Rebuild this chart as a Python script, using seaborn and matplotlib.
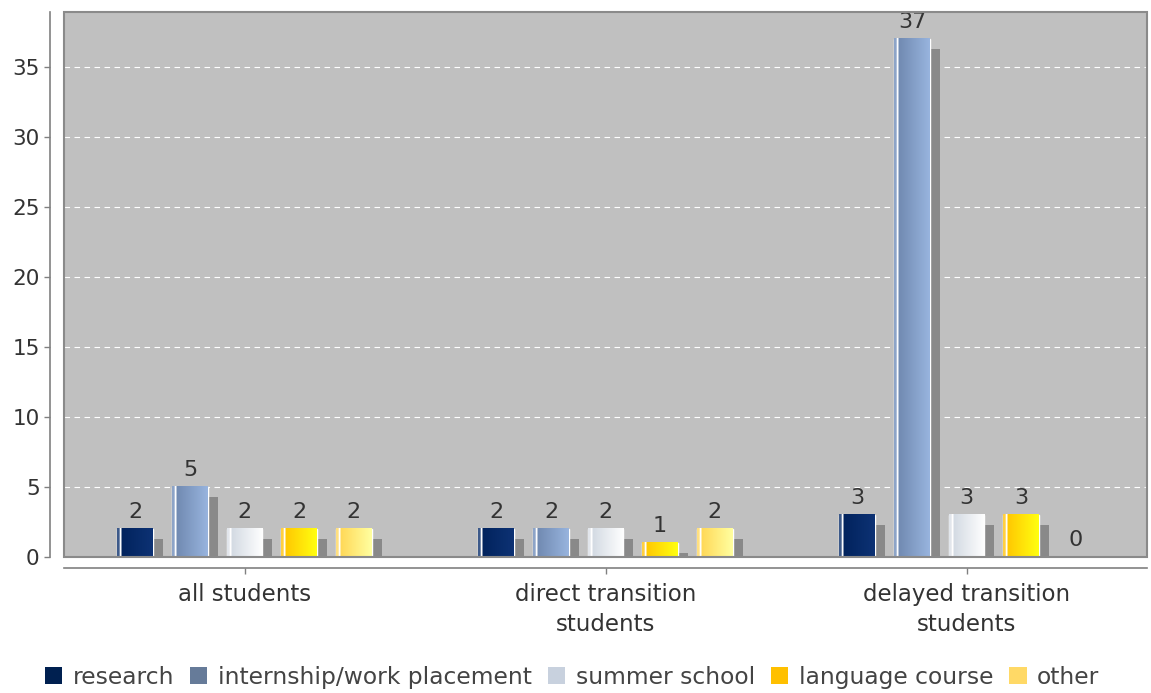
import matplotlib
matplotlib.use('Agg')
import numpy as np
import pandas as pd
import matplotlib.pyplot as plt
import seaborn as sns
from matplotlib.patches import Rectangle, Patch
from matplotlib.colors import to_rgb
from matplotlib.transforms import offset_copy

# Data
groups = ['all students', 'direct transition\nstudents', 'delayed transition\nstudents']
series = ['research', 'internship/work placement', 'summer school', 'language course', 'other']
research = [2, 2, 3]
internship = [5, 2, 37]
summer_school = [2, 2, 3]
language_course = [2, 1, 3]
other = [2, 2, 0]

# Colours: legend swatch, gradient left -> right, thin left strip
legend_colors = ['#002050', '#667b99', '#c8d1de', '#ffc000', '#ffd966']
grad_left = ['#00215a', '#6b84ab', '#cdd5df', '#ffc000', '#ffd34d']
grad_right = ['#0d3274', '#98b4de', '#ffffff', '#ffff10', '#ffffa0']
strip_colors = ['#3d5a8a', '#8da4c8', '#e2e6ec', '#ffd040', '#ffe080']

df = pd.DataFrame({
    'group': groups * 5,
    'series': np.repeat(series, 3),
    'count': research + internship + summer_school + language_course + other,
})

sns.set_style('white')
plt.rcParams['font.family'] = ['DejaVu Sans']

fig = plt.figure(figsize=(11.51, 6.93), dpi=100)
ax = fig.add_axes([64 / 1151, 1 - 557 / 693, 1083 / 1151, 545 / 693])
ax.set_facecolor('#c0c0c0')

sns.barplot(data=df, x='group', y='count', hue='series', order=groups, hue_order=series,
            palette=legend_colors, saturation=1, width=0.755, gap=0.34, errorbar=None,
            legend=False, ax=ax)

# shadow drawn from each bar's own geometry, shifted down-right
shadow_tr = offset_copy(ax.transData, fig=fig, x=7.2, y=-7.2, units='points')


def make_gradient(i, n=120):
    left = np.array(to_rgb(grad_left[i]))
    right = np.array(to_rgb(grad_right[i]))
    strip = np.array(to_rgb(strip_colors[i]))
    t = np.linspace(0, 1, n)
    img = left[None, :] * (1 - t[:, None]) + right[None, :] * t[:, None]
    img[:int(n * 0.08)] = strip
    img[int(n * 0.08):int(n * 0.13)] = [1, 1, 1]
    return img[None, :, :]


for i, cont in enumerate(ax.containers):
    grad = make_gradient(i)
    for bar in cont:
        x0, y0 = bar.get_x(), bar.get_y()
        w, h = bar.get_width(), bar.get_height()
        ax.add_patch(Rectangle((x0, y0), w, h, transform=shadow_tr,
                               facecolor='#898989', edgecolor='none', zorder=1.5))
        if h > 0:
            ax.imshow(grad, extent=(x0, x0 + w, y0, y0 + h), aspect='auto',
                      interpolation='bilinear', zorder=2)
        bar.set_zorder(1.8)
    ax.bar_label(cont, labels=[f'{v:g}' for v in cont.datavalues], padding=5,
                 fontsize=16, color='#333333', zorder=3)

ax.set_xlim(-0.5, 2.5)
ax.set_ylim(0, 38.9)
ax.set_aspect('auto')
ax.set_yticks(range(0, 40, 5))
ax.set_xlabel('')
ax.set_ylabel('')

ax.yaxis.grid(True, color='white', linestyle=(0, (5, 4)), linewidth=0.8)
ax.xaxis.grid(False)
ax.set_axisbelow(True)

for s in ['top', 'right']:
    ax.spines[s].set_visible(False)
ax.spines['left'].set_position(('outward', 10))
ax.spines['bottom'].set_position(('outward', 8))
for s in ['left', 'bottom']:
    ax.spines[s].set_color('#808080')
    ax.spines[s].set_linewidth(1.2)
ax.add_patch(Rectangle((0, 0), 1, 1, transform=ax.transAxes, fill=False,
                       edgecolor='#8a8a8a', linewidth=1.5, clip_on=False, zorder=5))

ax.tick_params(axis='both', length=4, width=1, color='#808080',
               labelcolor='#333333', left=True, bottom=True)
ax.tick_params(axis='y', labelsize=15.5)
ax.tick_params(axis='x', labelsize=16.5, pad=7)
for lab in ax.get_xticklabels():
    lab.set_linespacing(1.35)

handles = [Patch(facecolor=c, edgecolor='none') for c in legend_colors]
fig.legend(handles, series, loc='center', bbox_to_anchor=(0.497, 0.023), ncol=5,
           frameon=False, fontsize=16.8, handlelength=0.75, handleheight=0.75,
           handletextpad=0.45, columnspacing=0.68, labelcolor='#444444')

fig.savefig('out.png', dpi=100)
